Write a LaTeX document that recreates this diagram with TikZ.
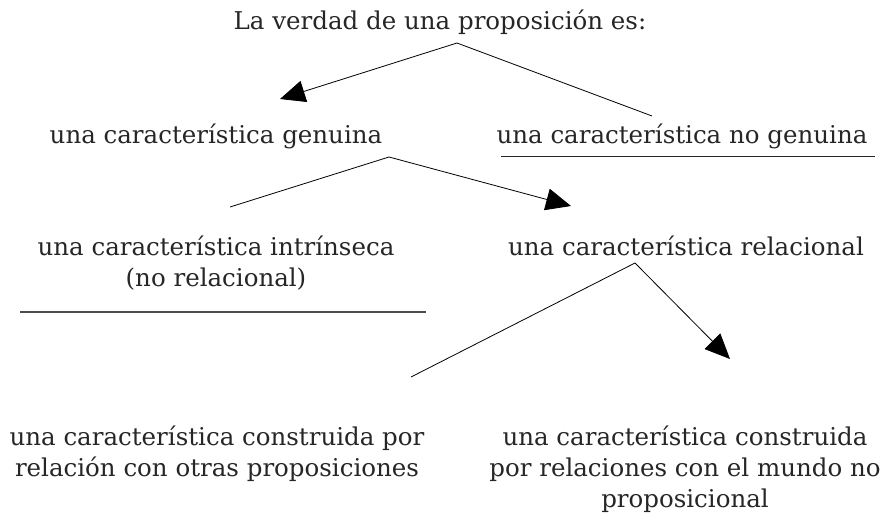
\documentclass[tikz,border=0pt]{standalone}
\usepackage{fontspec}
\setmainfont{DejaVu Serif}
\usetikzlibrary{arrows.meta}
\tikzset{
	texto/.style={anchor=base,align=center,inner sep=0pt,text=black!85,font=\fontsize{24.5}{31}\selectfont},
	flecha/.style={line width=0.8pt,-{Triangle[length=25pt,width=22pt]}},
	rama/.style={line width=0.8pt},
	raya/.style={line width=1.2pt,black!70}
}
\begin{document}
\begin{tikzpicture}[x=1pt,y=-1pt]
		\useasboundingbox (0,0) rectangle (885,532);
		\node[texto] (verdad) at (440,30) {La verdad de una proposición es:};
		\node[texto] (genuina) at (216,143) {una característica genuina};
		\node[texto] (nogenuina) at (682,143) {una característica no genuina};
		\node[texto] (intrinseca) at (216,286) {una característica intrínseca\\(no relacional)};
		\node[texto] (relacional) at (686,255) {una característica relacional};
		\node[texto] (otras) at (217,476) {una característica construida por\\relación con otras proposiciones};
		\node[texto] (mundo) at (685,507) {una característica construida\\por relaciones con el mundo no\\proposicional};
		% vertices y extremos de las ramas
		\coordinate (v1) at (457,43);
		\coordinate (v1a) at (280,99);
		\coordinate (v1b) at (652,116);
		\coordinate (v2) at (389,157);
		\coordinate (v2a) at (230,207);
		\coordinate (v2b) at (571,206);
		\coordinate (v3) at (635,263);
		\coordinate (v3a) at (411,377);
		\coordinate (v3b) at (730,359);
		\draw[flecha] (v1) -- (v1a);
		\draw[rama] (v1) -- (v1b);
		\draw[rama] (v2) -- (v2a);
		\draw[flecha] (v2) -- (v2b);
		\draw[rama] (v3) -- (v3a);
		\draw[flecha] (v3) -- (v3b);
		% subrayados
		\draw[raya,line width=1pt,black!85] (501,156) -- (875,156);
		\draw[raya,line width=1.4pt] (20,312) -- (426,312);
	\end{tikzpicture}
\end{document}
